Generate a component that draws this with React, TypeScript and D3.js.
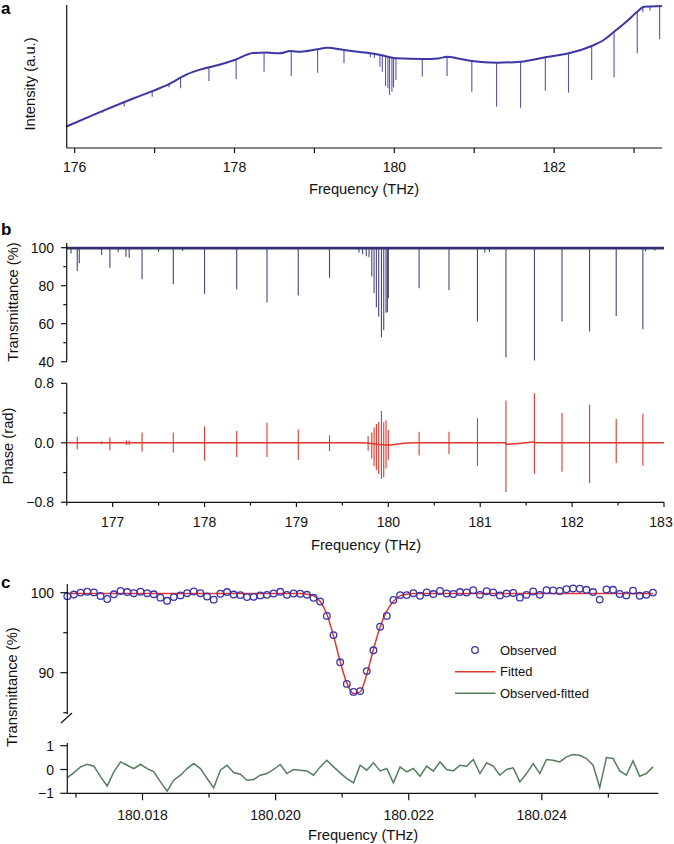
import React from 'react';
import * as d3 from 'd3';

// ---------- Panel a data ----------
const aBaseFreq = [175.89, 176.33, 176.74, 176.99, 177.16, 177.41, 177.58, 177.8, 178.0, 178.23, 178.4, 178.56, 178.7, 178.83, 179.03, 179.16, 179.37, 179.66, 179.83, 180.03, 180.35, 180.55, 180.66, 180.8, 180.97, 181.28, 181.58, 181.89, 182.18, 182.47, 182.62, 182.75, 182.9, 183.04, 183.125, 183.2, 183.35];
const aBaseInt = [0.149, 0.254, 0.348, 0.401, 0.441, 0.517, 0.55, 0.58, 0.615, 0.664, 0.668, 0.662, 0.678, 0.673, 0.69, 0.701, 0.685, 0.666, 0.65, 0.627, 0.622, 0.626, 0.638, 0.626, 0.608, 0.597, 0.603, 0.634, 0.662, 0.713, 0.755, 0.813, 0.881, 0.953, 0.988, 0.99, 0.993];
const aLineFreq = [176.35, 176.62, 176.97, 177.18, 177.325, 177.68, 178.02, 178.37, 178.71, 179.04, 179.37, 179.7, 179.75, 179.82, 179.85, 179.89, 179.92, 179.94, 179.97, 179.99, 180.02, 180.35, 180.66, 180.97, 181.28, 181.58, 181.89, 182.18, 182.47, 182.75, 183.04, 183.11, 183.2, 183.32];
const aLineBottom = [0.247, 0.29, 0.359, 0.425, 0.417, 0.469, 0.48, 0.534, 0.503, 0.527, 0.592, 0.636, 0.63, 0.569, 0.534, 0.434, 0.417, 0.371, 0.394, 0.424, 0.476, 0.5, 0.503, 0.394, 0.289, 0.282, 0.401, 0.387, 0.476, 0.494, 0.662, 0.95, 0.96, 0.76];
const aTicks = [176, 177, 178, 179, 180, 181, 182, 183];
const aTickLabels = ['176', '', '178', '', '180', '', '182', ''];

// ---------- Panel b data ----------
const bLineFreq = [176.547, 176.615, 176.637, 176.88, 176.97, 177.06, 177.145, 177.18, 177.32, 177.5, 177.66, 177.76, 178.0, 178.35, 178.68, 179.02, 179.36, 179.68, 179.72, 179.76, 179.79, 179.82, 179.845, 179.87, 179.895, 179.925, 179.95, 179.975, 179.99, 180.0, 180.335, 180.66, 180.97, 181.05, 181.1, 181.28, 181.59, 181.89, 182.19, 182.48, 182.77, 182.8, 182.9];
const bLineT = [97, 87.7, 91.8, 96.2, 89.5, 97.6, 95.3, 94.7, 83.4, 97.9, 80.7, 98.3, 75.7, 78.1, 71.1, 74.8, 84.2, 97.5, 96.5, 95.5, 95, 84.8, 76, 68.7, 63.7, 52.9, 56.7, 65.8, 66, 73.4, 78.6, 77.8, 61.1, 97.5, 97.8, 42.2, 40.6, 61.1, 55.9, 64.1, 57.1, 98, 98.5];
const bPhaseFreq = [176.615, 176.88, 176.97, 177.15, 177.18, 177.32, 177.66, 178.0, 178.35, 178.68, 179.02, 179.36, 179.78, 179.82, 179.845, 179.87, 179.895, 179.925, 179.95, 179.975, 180.0, 180.335, 180.66, 180.97, 181.28, 181.59, 181.89, 182.19, 182.48, 182.77];
const bPhaseUp = [0.08, 0.02, 0.07, 0.03, 0.03, 0.14, 0.14, 0.22, 0.16, 0.27, 0.18, 0.10, 0.1, 0.15, 0.22, 0.27, 0.3, 0.45, 0.3, 0.33, 0.2, 0.15, 0.15, 0.33, 0.58, 0.66, 0.40, 0.51, 0.32, 0.39];
const bPhaseDown = [-0.09, -0.02, -0.1, -0.03, -0.03, -0.12, -0.13, -0.24, -0.19, -0.19, -0.23, -0.11, -0.1, -0.2, -0.3, -0.35, -0.4, -0.46, -0.44, -0.32, -0.2, -0.17, -0.15, -0.31, -0.65, -0.42, -0.39, -0.54, -0.27, -0.31];
const bPhaseBaseFreq = [176.5, 179.7, 180.01, 180.1, 180.3, 181.27, 181.29, 181.45, 181.58, 181.6, 181.8, 183.0];
const bPhaseBaseVal = [0, 0, -0.03, -0.015, 0, 0, -0.02, -0.005, 0.01, 0, 0, 0];
const bTBase = 99.8;
const bXTicks = [177, 178, 179, 180, 181, 182, 183];
const bXMinor = [176.5, 177.5, 178.5, 179.5, 180.5, 181.5, 182.5];
const bTTicks = [40, 60, 80, 100];
const bTMinor = [50, 70, 90];
const bPTicks = [-0.8, 0, 0.8];
const bPTickLabels = ['\u22120.8', '0.0', '0.8'];
const bPMinor = [-0.4, 0.4];

// ---------- Panel c data ----------
const cStart = 180.01687;
const cStep = 0.0001;
const cObserved = [99.56, 99.77, 100.01, 100.12, 100.04, 99.59, 99.21, 99.8, 100.22, 100.08, 99.94, 100.12, 99.94, 99.8, 99.38, 98.99, 99.45, 99.66, 99.94, 100.15, 99.94, 99.52, 99.13, 99.87, 100.08, 99.77, 99.7, 99.45, 99.48, 99.66, 99.73, 99.9, 100.11, 99.73, 99.9, 99.87, 99.74, 99.36, 98.9, 97.1, 94.7, 91.3, 88.6, 87.6, 87.7, 90.2, 92.8, 95.75, 97.1, 99.1, 99.7, 99.7, 99.94, 99.62, 100.04, 99.83, 100.22, 99.9, 99.84, 100.08, 100.04, 100.32, 99.73, 100.18, 100.04, 99.66, 99.9, 99.97, 99.38, 99.73, 100.15, 99.73, 100.32, 100.29, 100.22, 100.43, 100.53, 100.5, 100.36, 100.08, 99.14, 100.4, 100.36, 99.84, 99.66, 100.26, 99.62, 99.73, 100.01];
const cFitted = [99.9, 99.9, 99.9, 99.9, 99.9, 99.9, 99.9, 99.9, 99.9, 99.9, 99.9, 99.9, 99.9, 99.9, 99.9, 99.9, 99.9, 99.9, 99.9, 99.9, 99.9, 99.9, 99.9, 99.9, 99.9, 99.9, 99.9, 99.9, 99.9, 99.9, 99.9, 99.9, 99.9, 99.9, 99.9, 99.9, 99.8, 99.6, 98.9, 97.3, 94.6, 91.4, 88.7, 87.4, 87.6, 89.8, 92.9, 95.7, 97.7, 98.9, 99.6, 99.8, 99.9, 99.9, 99.9, 99.9, 99.9, 99.9, 99.9, 99.9, 99.9, 99.9, 99.9, 99.9, 99.9, 99.9, 99.9, 99.9, 99.9, 99.9, 99.9, 99.9, 99.9, 99.9, 99.9, 99.9, 99.9, 99.9, 99.9, 99.9, 99.9, 99.9, 99.9, 99.9, 99.9, 99.9, 99.9, 99.9, 99.9];
const cResidual = [-0.34, -0.13, 0.11, 0.22, 0.14, -0.31, -0.69, -0.1, 0.32, 0.18, 0.04, 0.22, 0.04, -0.1, -0.52, -0.91, -0.45, -0.24, 0.04, 0.25, 0.04, -0.38, -0.77, -0.03, 0.18, -0.13, -0.2, -0.45, -0.42, -0.24, -0.17, 0.0, 0.21, -0.17, 0.0, -0.03, -0.06, -0.24, 0.11, 0.39, 0.11, -0.14, -0.38, -0.56, 0.18, -0.03, 0.28, -0.06, 0.04, -0.56, 0.11, -0.1, 0.04, -0.28, 0.14, -0.07, 0.32, 0.0, -0.06, 0.18, 0.14, 0.42, -0.17, 0.28, 0.14, -0.24, 0.0, 0.07, -0.52, -0.17, 0.25, -0.17, 0.42, 0.39, 0.32, 0.53, 0.63, 0.6, 0.46, 0.18, -0.76, 0.5, 0.46, -0.06, -0.24, 0.36, -0.28, -0.17, 0.11];
const cXTicks = [180.018, 180.020, 180.022, 180.024];
const cXMinor = [180.017, 180.019, 180.021, 180.023, 180.025];
const cYTicks = [90, 100];
const cYMinor = [85, 95];
const cRTicks = [-1, 0, 1];
const cRTickLabels = ['\u22121', '0', '1'];
const legendLabels = ['Observed', 'Fitted', 'Observed-fitted'];

const FONT = "'Liberation Sans', Arial, Helvetica, sans-serif";
const C_A = '#3d37a3';
const C_B = '#33336e';
const C_RED = '#e3362c';
const C_CIRC = '#3a33ad';
const C_GREEN = '#557e5c';

export default function App() {
  // ---- panel a ----
  const xa = d3.scaleLinear().domain([175.9, 183.35]).range([66.7, 662]);
  const ya = d3.scaleLinear().domain([0, 1]).range([148, 5]);
  const aBaseScale = d3.scaleLinear().domain(aBaseFreq).range(aBaseInt);
  const aPts: [number, number][] = aBaseFreq.map((f, i) => [f, aBaseInt[i]]);
  const aPath = d3.line<[number, number]>().x(d => xa(d[0])).y(d => ya(d[1])).curve(d3.curveMonotoneX)(aPts) || '';

  // ---- panel b ----
  const xb = d3.scaleLinear().domain([176.5, 183]).range([66.7, 664]);
  const yT = d3.scaleLinear().domain([40, 100]).range([361.7, 247.7]);
  const yP = d3.scaleLinear().domain([-0.8, 0.8]).range([502.3, 383.3]);
  const bBasePath = d3.line<number>().x(d => xb(d)).y(() => yT(bTBase))([176.5, 183]) || '';
  const pBasePts: [number, number][] = bPhaseBaseFreq.map((f, i) => [f, bPhaseBaseVal[i]]);
  const pBasePath = d3.line<[number, number]>().x(d => xb(d[0])).y(d => yP(d[1])).curve(d3.curveMonotoneX)(pBasePts) || '';
  const pBaseScale = d3.scaleLinear().domain(bPhaseBaseFreq).range(bPhaseBaseVal);

  // ---- panel c ----
  const cFreq = cObserved.map((_, i) => cStart + cStep * i);
  const xc = d3.scaleLinear().domain([cStart, 180.02575]).range([67.3, 658.3]);
  const yc = d3.scaleLinear().domain([90, 100]).range([672.7, 592.7]);
  const yr = d3.scaleLinear().domain([-1, 1]).range([793.3, 745.7]);
  const fitPath = d3.line<number>().x((_, i) => xc(cFreq[i])).y(d => yc(d)).curve(d3.curveMonotoneX)(cFitted) || '';
  const resPath = d3.line<number>().x((_, i) => xc(cFreq[i])).y(d => yr(d))(cResidual) || '';

  const axisStroke = { stroke: '#111', strokeWidth: 1.2, fill: 'none' };
  const tickFont = { fontFamily: FONT, fontSize: 14, fill: '#111' } as const;
  const titleFont = { fontFamily: FONT, fontSize: 14.7, fill: '#111' } as const;

  return (
    <svg width={674} height={844} style={{ position: 'absolute', left: 0, top: 0, background: '#fff' }}>
      <rect x={0} y={0} width={674} height={844} fill="#fff" />
      {/* ================= Panel a ================= */}
      <text x={1} y={14} style={{ fontFamily: FONT, fontSize: 17, fontWeight: 700 }}>a</text>
      <path d={aPath} stroke={C_A} strokeWidth={2.0} fill="none" />
      {aLineFreq.map((f, i) => (
        <line key={'al' + i} x1={xa(f)} x2={xa(f)} y1={ya(aBaseScale(f))} y2={ya(aLineBottom[i])} stroke={C_A} strokeWidth={1.1} opacity={0.85} />
      ))}
      <line x1={66.7} x2={66.7} y1={5} y2={148} {...axisStroke} />
      <line x1={66.7} x2={662} y1={148} y2={148} {...axisStroke} />
      {aTicks.map((t, i) => (
        <g key={'at' + i}>
          <line x1={xa(t)} x2={xa(t)} y1={148} y2={153} {...axisStroke} />
          {aTickLabels[i] && <text x={xa(t)} y={172} textAnchor="middle" style={tickFont}>{aTickLabels[i]}</text>}
        </g>
      ))}
      <text x={364} y={194} textAnchor="middle" style={titleFont}>Frequency (THz)</text>
      <text transform="translate(29.7,84) rotate(-90)" textAnchor="middle" dominantBaseline="central" style={titleFont}>Intensity (a.u.)</text>

      {/* ================= Panel b ================= */}
      <text x={1} y={235} style={{ fontFamily: FONT, fontSize: 17, fontWeight: 700 }}>b</text>
      <path d={bBasePath} stroke={C_B} strokeWidth={2.6} fill="none" />
      {bLineFreq.map((f, i) => (
        <line key={'bl' + i} x1={xb(f)} x2={xb(f)} y1={yT(bTBase)} y2={yT(bLineT[i])} stroke={C_B} strokeWidth={1.1} opacity={0.9} />
      ))}
      <path d={pBasePath} stroke={C_RED} strokeWidth={1.5} fill="none" />
      {bPhaseFreq.map((f, i) => (
        <line key={'bp' + i} x1={xb(f)} x2={xb(f)} y1={yP(bPhaseUp[i] + pBaseScale(f))} y2={yP(bPhaseDown[i] + pBaseScale(f))} stroke={C_RED} strokeWidth={1.1} />
      ))}
      {/* T axis */}
      <line x1={66.7} x2={66.7} y1={243} y2={361.7} {...axisStroke} />
      {bTTicks.map((t) => (
        <g key={'bt' + t}>
          <line x1={61} x2={66.7} y1={yT(t)} y2={yT(t)} {...axisStroke} />
          <text x={54} y={yT(t)} textAnchor="end" dominantBaseline="central" style={tickFont}>{t}</text>
        </g>
      ))}
      {bTMinor.map((t) => (
        <line key={'btm' + t} x1={63.3} x2={66.7} y1={yT(t)} y2={yT(t)} {...axisStroke} />
      ))}
      {/* Phase axis */}
      <line x1={66.7} x2={66.7} y1={383.3} y2={502.3} {...axisStroke} />
      {bPTicks.map((t, i) => (
        <g key={'bpt' + i}>
          <line x1={61} x2={66.7} y1={yP(t)} y2={yP(t)} {...axisStroke} />
          <text x={54} y={yP(t)} textAnchor="end" dominantBaseline="central" style={tickFont}>{bPTickLabels[i]}</text>
        </g>
      ))}
      {bPMinor.map((t) => (
        <line key={'bpm' + t} x1={63.3} x2={66.7} y1={yP(t)} y2={yP(t)} {...axisStroke} />
      ))}
      <line x1={66.7} x2={664} y1={502.3} y2={502.3} {...axisStroke} />
      {bXTicks.map((t) => (
        <g key={'bx' + t}>
          <line x1={xb(t)} x2={xb(t)} y1={502.3} y2={507} {...axisStroke} />
          <text x={Math.min(xb(t), 661)} y={527} textAnchor="middle" style={tickFont}>{t}</text>
        </g>
      ))}
      {bXMinor.map((t) => (
        <line key={'bxm' + t} x1={xb(t)} x2={xb(t)} y1={502.3} y2={505.6} {...axisStroke} />
      ))}
      <text x={366} y={550} textAnchor="middle" style={titleFont}>Frequency (THz)</text>
      <text transform="translate(13.3,302) rotate(-90)" textAnchor="middle" dominantBaseline="central" style={titleFont}>Transmittance (%)</text>
      <text transform="translate(7.8,446) rotate(-90)" textAnchor="middle" dominantBaseline="central" style={titleFont}>Phase (rad)</text>

      {/* ================= Panel c ================= */}
      <text x={1} y={588} style={{ fontFamily: FONT, fontSize: 17, fontWeight: 700 }}>c</text>
      <path d={fitPath} stroke={C_RED} strokeWidth={1.5} fill="none" />
      {cObserved.map((v, i) => (
        <circle key={'co' + i} cx={xc(cFreq[i])} cy={yc(v)} r={3.3} fill="#fff" fillOpacity={0} stroke={C_CIRC} strokeWidth={1.3} />
      ))}
      <path d={resPath} stroke={C_GREEN} strokeWidth={1.5} fill="none" />
      {/* upper axis */}
      <line x1={67.3} x2={67.3} y1={584} y2={714} {...axisStroke} />
      <line x1={61} x2={72} y1={723} y2={713} {...axisStroke} />
      {cYTicks.map((t) => (
        <g key={'cy' + t}>
          <line x1={60.3} x2={67.3} y1={yc(t)} y2={yc(t)} {...axisStroke} />
          <text x={54} y={yc(t)} textAnchor="end" dominantBaseline="central" style={tickFont}>{t}</text>
        </g>
      ))}
      {cYMinor.map((t) => (
        <line key={'cym' + t} x1={63.3} x2={67.3} y1={yc(t)} y2={yc(t)} {...axisStroke} />
      ))}
      {/* lower axis */}
      <line x1={67.3} x2={67.3} y1={743} y2={793.3} {...axisStroke} />
      {cRTicks.map((t, i) => (
        <g key={'cr' + i}>
          <line x1={60.3} x2={67.3} y1={yr(t)} y2={yr(t)} {...axisStroke} />
          <text x={54} y={yr(t)} textAnchor="end" dominantBaseline="central" style={tickFont}>{cRTickLabels[i]}</text>
        </g>
      ))}
      <line x1={67.3} x2={658.3} y1={793.3} y2={793.3} {...axisStroke} />
      {cXTicks.map((t) => (
        <g key={'cx' + t}>
          <line x1={xc(t)} x2={xc(t)} y1={793.3} y2={800.3} {...axisStroke} />
          <text x={xc(t)} y={820} textAnchor="middle" style={tickFont}>{t.toFixed(3)}</text>
        </g>
      ))}
      {cXMinor.map((t) => (
        <line key={'cxm' + t} x1={xc(t)} x2={xc(t)} y1={793.3} y2={797.5} {...axisStroke} />
      ))}
      <text x={363} y={840} textAnchor="middle" style={titleFont}>Frequency (THz)</text>
      <text transform="translate(12,687) rotate(-90)" textAnchor="middle" dominantBaseline="central" style={titleFont}>Transmittance (%)</text>
      {/* legend */}
      <circle cx={475} cy={650} r={3.3} fill="none" stroke={C_CIRC} strokeWidth={1.3} />
      <text x={500} y={650} dominantBaseline="central" style={{ fontFamily: FONT, fontSize: 13, fill: '#111' }}>{legendLabels[0]}</text>
      <line x1={455} x2={495.5} y1={671.7} y2={671.7} stroke={C_RED} strokeWidth={1.5} />
      <text x={500} y={671.7} dominantBaseline="central" style={{ fontFamily: FONT, fontSize: 13, fill: '#111' }}>{legendLabels[1]}</text>
      <line x1={455} x2={495.5} y1={693.3} y2={693.3} stroke={C_GREEN} strokeWidth={1.5} />
      <text x={500} y={693.3} dominantBaseline="central" style={{ fontFamily: FONT, fontSize: 13, fill: '#111' }}>{legendLabels[2]}</text>
    </svg>
  );
}
